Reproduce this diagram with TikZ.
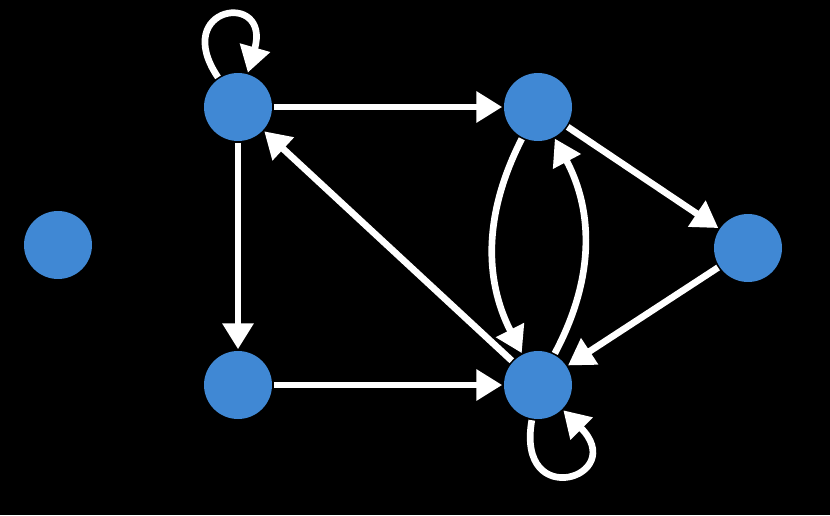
\documentclass[tikz,border=0pt]{standalone}
\usepackage{xcolor}
\usepackage{tikz}
\usetikzlibrary{arrows.meta}
\definecolor{vertexblue}{RGB}{64,136,212}

\begin{document}
\begin{tikzpicture}[x=0.02cm, y=0.02cm,
    vertex/.style={circle, fill=vertexblue, minimum size=1.36cm, inner sep=0pt, outer sep=1pt},
    arc/.style={white, line width=3.8pt, -{Triangle[length=0.52cm, width=0.6cm]}}]
  % background
  \fill[black] (0,0) rectangle (830,515);
  \useasboundingbox (0,0) rectangle (830,515);
  % vertices
  \node[vertex] (a) at (58,270) {};
  \node[vertex] (b) at (238,408) {};
  \node[vertex] (c) at (538,408) {};
  \node[vertex] (d) at (748,267) {};
  \node[vertex] (e) at (238,130) {};
  \node[vertex] (f) at (538,130) {};
  % arcs
  \draw[arc] (b) to[out=124, in=74, looseness=7.3] (b);
  \draw[arc] (b) -- (c);
  \draw[arc] (b) -- (e);
  \draw[arc] (f) -- (b);
  \draw[arc] (c) -- (d);
  \draw[arc] (d) -- (f);
  \draw[arc] (e) -- (f);
  \draw[arc] (c) to[bend right=27] (f);
  \draw[arc] (f) to[bend right=28] (c);
  \draw[arc] (f) to[out=-100, in=-45, looseness=7.3] (f);
\end{tikzpicture}
\end{document}
